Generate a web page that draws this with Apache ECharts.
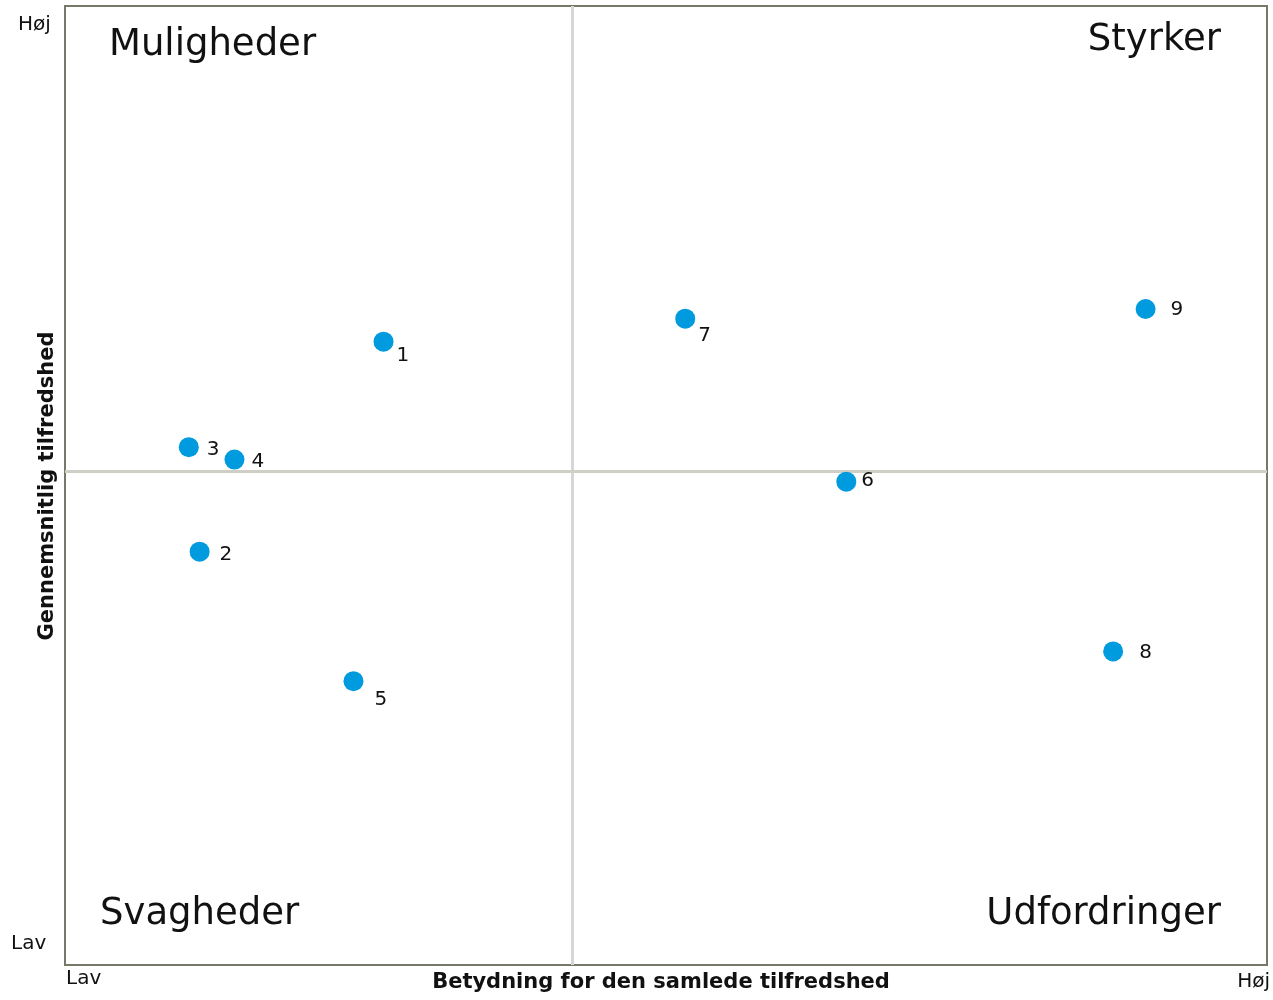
<!DOCTYPE html>
<html><head><meta charset="utf-8">
<script src="https://cdn.jsdelivr.net/npm/echarts@6/dist/echarts.min.js"></script>
<style>html,body{margin:0;padding:0;background:#fff}#c{width:1273px;height:1000px}</style>
</head><body><div id="c"></div>
<script>
const pointNames = ['1','2','3','4','5','6','7','8','9'];
const importance = [26.5, 11.2, 10.3, 14.1, 24.0, 65.0, 51.6, 87.2, 89.9];
const satisfaction = [65.0, 43.1, 54.0, 52.7, 29.6, 50.4, 67.4, 32.7, 68.4];
const dividerX = 42.2;
const dividerY = 51.5;
const quadrantNames = ['Muligheder', 'Styrker', 'Svagheder', 'Udfordringer'];
const lowHigh = ['Lav', 'Høj'];
const xTitle = 'Betydning for den samlede tilfredshed';
const yTitle = 'Gennemsnitlig tilfredshed';
const labelNudge = [[-2,14],[5,3],[3,3],[2,2],[6,19],[0,-1],[-2,17],[11,1],[10,1]];

const FONT = 'DejaVu Sans';
const chart = echarts.init(document.getElementById('c'));
const data = pointNames.map((n, i) => ({
  value: [importance[i], satisfaction[i]],
  name: n,
  label: { offset: labelNudge[i] }
}));
chart.setOption({
  animation: false,
  grid: { left: 65, right: 6, top: 6, bottom: 35, show: true, borderColor: '#77776a', borderWidth: 2, backgroundColor: '#fff' },
  xAxis: { type: 'value', min: 0, max: 100, axisLine: { show: false }, axisTick: { show: false }, axisLabel: { show: false }, splitLine: { show: false } },
  yAxis: { type: 'value', min: 0, max: 100, axisLine: { show: false }, axisTick: { show: false }, axisLabel: { show: false }, splitLine: { show: false } },
  series: [{
    type: 'scatter',
    symbolSize: 20,
    itemStyle: { color: '#009ade', opacity: 1 },
    label: { show: true, position: 'right', formatter: p => p.name, color: '#111', fontFamily: FONT, fontSize: 20 },
    data: data,
    z: 5,
    markLine: {
      silent: true, symbol: 'none', label: { show: false },
      data: [
        { xAxis: dividerX, lineStyle: { color: '#d6d6d6', width: 3, type: 'solid' } },
        { yAxis: dividerY, lineStyle: { color: '#cfcfc6', width: 3, type: 'solid' } }
      ]
    }
  }],
  graphic: [
    { type: 'text', left: 109, top: 27, style: { text: quadrantNames[0], font: '37px ' + FONT, fill: '#111' } },
    { type: 'text', right: 52, top: 22, style: { text: quadrantNames[1], font: '37px ' + FONT, fill: '#111' } },
    { type: 'text', left: 100, top: 896, style: { text: quadrantNames[2], font: '37px ' + FONT, fill: '#111' } },
    { type: 'text', right: 52, top: 896, style: { text: quadrantNames[3], font: '37px ' + FONT, fill: '#111' } },
    { type: 'text', left: 18, top: 15, style: { text: lowHigh[1], font: '20px ' + FONT, fill: '#111' } },
    { type: 'text', left: 11, top: 934, style: { text: lowHigh[0], font: '20px ' + FONT, fill: '#111' } },
    { type: 'text', left: 66, top: 969, style: { text: lowHigh[0], font: '20px ' + FONT, fill: '#111' } },
    { type: 'text', right: 3, top: 972, style: { text: lowHigh[1], font: '20px ' + FONT, fill: '#111' } },
    { type: 'text', x: 661, y: 983, style: { text: xTitle, font: 'bold 21px ' + FONT, fill: '#111', align: 'center', verticalAlign: 'middle' } },
    { type: 'text', x: 48, y: 486, rotation: Math.PI / 2, style: { text: yTitle, font: 'bold 21px ' + FONT, fill: '#111', align: 'center', verticalAlign: 'middle' } }
  ]
});
</script></body></html>
